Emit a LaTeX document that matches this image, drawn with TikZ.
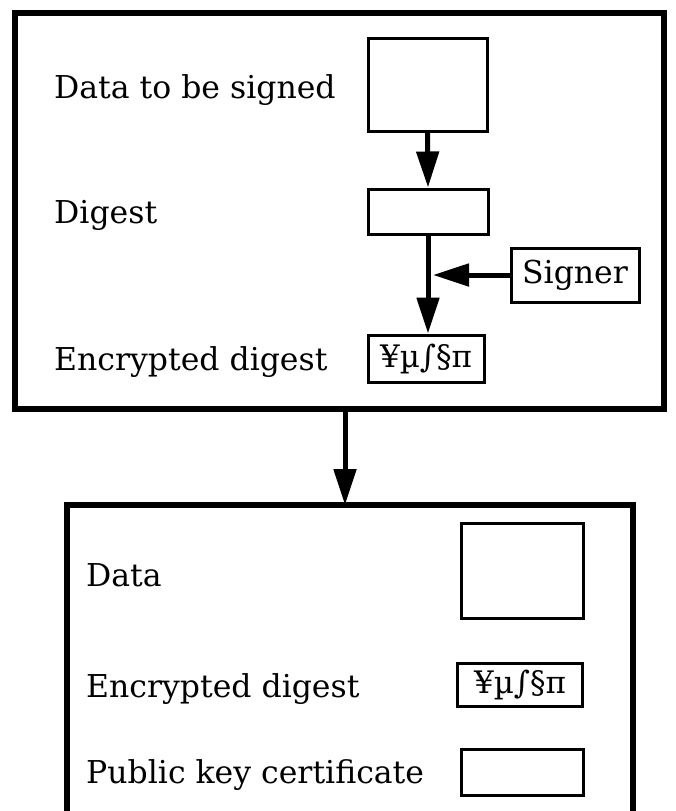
\documentclass[tikz,border=0pt]{standalone}
\usepackage{fontspec}
\setmainfont{DejaVu Serif}
\usetikzlibrary{arrows.meta}
\tikzset{
  outer/.style={line width=6pt},
  box/.style={draw, line width=3pt, inner sep=0pt},
  txt/.style={font=\fontsize{31.5}{36}\selectfont},
  lbl/.style={txt, anchor=base west, inner sep=0pt},
  sym/.style={font=\fontsize{31}{36}\selectfont},
  conn/.style={line width=5pt, -{Triangle[length=36pt,width=22pt]}},
}
\begin{document}
\begin{tikzpicture}[x=1pt,y=-1pt]
\useasboundingbox (0,0) rectangle (676,811);
% top frame
\draw[outer] (14.5,12.5) rectangle (663.5,408.5);
% bottom frame (open at bottom)
\draw[outer] (67,830) -- (67,505) -- (633,505) -- (633,830);
\coordinate (topframe) at (345,408.5);
\coordinate (botframe) at (345,505);

% top boxes
\node[box, minimum width=119pt, minimum height=93pt] (data) at (427.5,84.5) {};
\node[box, minimum width=120pt, minimum height=45pt] (digest) at (428,211.5) {};
\node[box, txt, minimum width=128pt, minimum height=54pt] (signer) at (575,275) {Signer};
\node[box, sym, minimum width=116pt, minimum height=47pt] (enc) at (426,358.5) {¥µ∫§π};
\coordinate (junction) at (433,275);

\node[lbl] (l1) at (54,98) {Data to be signed};
\node[lbl] (l2) at (54,223) {Digest};
\node[lbl] (l3) at (54,370) {Encrypted digest};

\draw[conn] (data.south) -- (digest.north);
\draw[conn] (digest.south) -- (digest.south |- enc.north);
\draw[conn] (signer.west) -- (junction);
\draw[conn] (topframe) -- (botframe);

% bottom boxes
\node[box, minimum width=122pt, minimum height=95pt] (bdata) at (522,570.5) {};
\node[box, sym, minimum width=125pt, minimum height=43pt] (benc) at (520,684.5) {¥µ∫§π};
\node[box, minimum width=122pt, minimum height=46pt] (cert) at (522,772) {};

\node[lbl] (b1) at (86,586) {Data};
\node[lbl] (b2) at (86,697) {Encrypted digest};
\node[lbl] (b3) at (86,783) {Public key certificate};
\end{tikzpicture}
\end{document}
